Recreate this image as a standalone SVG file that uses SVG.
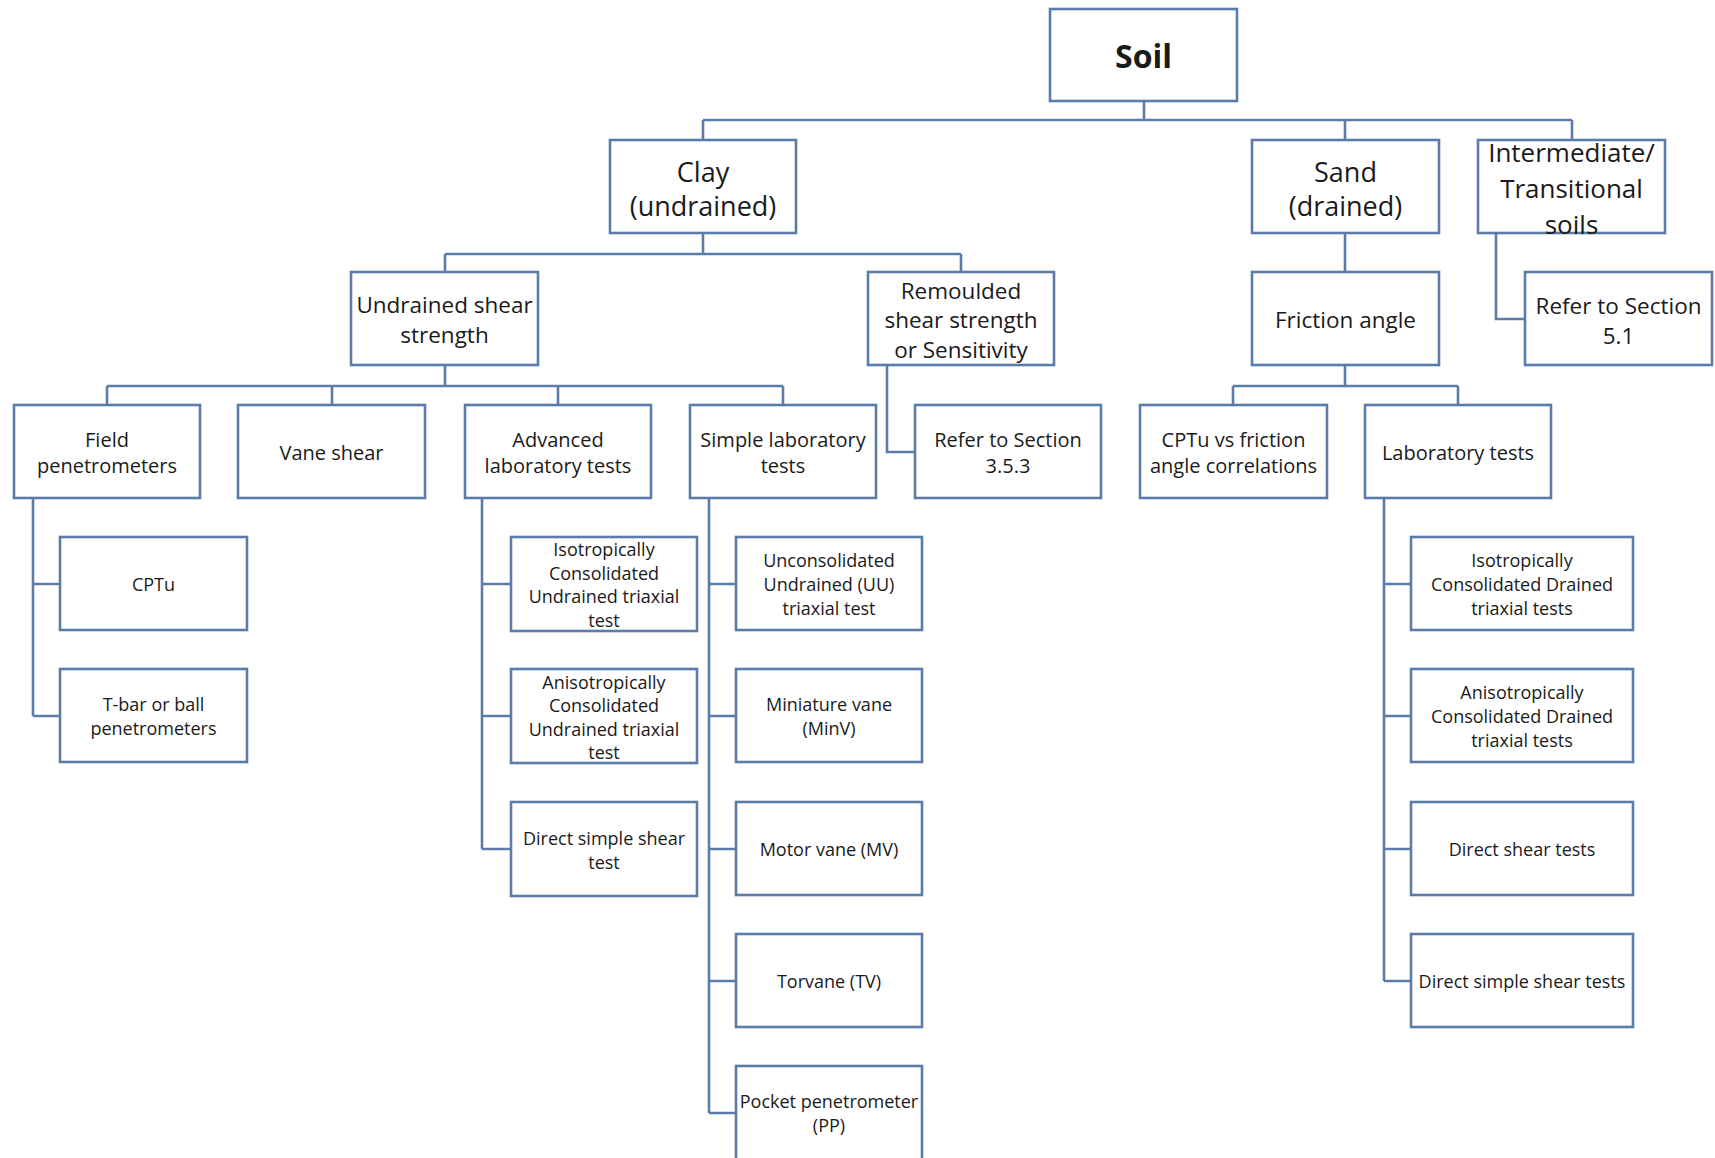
<svg xmlns="http://www.w3.org/2000/svg" width="1715" height="1158" viewBox="0 0 1715 1158">
<style>
.box{fill:#ffffff;stroke:#5b7ca8;stroke-width:2.6}
.ln{fill:none;stroke:#5b7ca8;stroke-width:2.6}
text{font-family:"Open Sans","Noto Sans","Liberation Sans",sans-serif;fill:#1a1a1a;text-anchor:middle;dominant-baseline:central}
.t0{font-size:32px;font-weight:bold}
.t1{font-size:27px}
.t1s{font-size:26px}
.t2{font-size:22.5px}
.t3{font-size:20px}
.t4{font-size:18px}
</style>
<rect width="1715" height="1158" fill="#ffffff"/>
<g id="connectors">
<path class="ln" d="M1144 101V120M703 120H1572M703 120V140M1345 120V140M1572 120V140"/>
<path class="ln" d="M703 233V254M445 254H961M445 254V272M961 254V272"/>
<path class="ln" d="M1345 233V272"/>
<path class="ln" d="M1496 233V319H1525"/>
<path class="ln" d="M445 365V386M107 386H783M107 386V405M332 386V405M558 386V405M783 386V405"/>
<path class="ln" d="M887 365V452H915"/>
<path class="ln" d="M1345 365V386M1233 386H1458M1233 386V405M1458 386V405"/>
<path class="ln" d="M33 498V716M33 584H60M33 716H60"/>
<path class="ln" d="M482 498V849M482 584H511M482 716H511M482 849H511"/>
<path class="ln" d="M709 498V1113M709 584H736M709 716H736M709 849H736M709 981H736M709 1113H736"/>
<path class="ln" d="M1384 498V981M1384 584H1411M1384 716H1411M1384 849H1411M1384 981H1411"/>
</g>
<g id="soil"><rect class="box" x="1050" y="9" width="187" height="92"/><text class="t0" x="1143.5" y="55">Soil</text></g>
<g id="clay"><rect class="box" x="610" y="140" width="186" height="93"/><text class="t1" x="703" y="171">Clay</text><text class="t1" x="703" y="205">(undrained)</text></g>
<g id="sand"><rect class="box" x="1252" y="140" width="187" height="93"/><text class="t1" x="1345.5" y="171">Sand</text><text class="t1" x="1345.5" y="205">(drained)</text></g>
<g id="intermediate"><rect class="box" x="1478" y="140" width="187" height="93"/><text class="t1s" x="1571.5" y="152">Intermediate/</text><text class="t1s" x="1571.5" y="188">Transitional</text><text class="t1s" x="1571.5" y="224">soils</text></g>
<g id="undrained-shear"><rect class="box" x="351" y="272" width="187" height="93"/><text class="t2" x="444.5" y="304">Undrained shear</text><text class="t2" x="444.5" y="334">strength</text></g>
<g id="remoulded"><rect class="box" x="868" y="272" width="186" height="93"/><text class="t2" x="961" y="290">Remoulded</text><text class="t2" x="961" y="319.5">shear strength</text><text class="t2" x="961" y="349">or Sensitivity</text></g>
<g id="friction-angle"><rect class="box" x="1252" y="272" width="187" height="93"/><text class="t2" x="1345.5" y="319">Friction angle</text></g>
<g id="refer-5-1"><rect class="box" x="1525" y="272" width="187" height="93"/><text class="t2" x="1618.5" y="305">Refer to Section</text><text class="t2" x="1618.5" y="335">5.1</text></g>
<g id="field-pen"><rect class="box" x="14" y="405" width="186" height="93"/><text class="t3" x="107" y="439">Field</text><text class="t3" x="107" y="465">penetrometers</text></g>
<g id="vane-shear"><rect class="box" x="238" y="405" width="187" height="93"/><text class="t3" x="331.5" y="452">Vane shear</text></g>
<g id="advanced"><rect class="box" x="465" y="405" width="186" height="93"/><text class="t3" x="558" y="439">Advanced</text><text class="t3" x="558" y="465">laboratory tests</text></g>
<g id="simple-lab"><rect class="box" x="690" y="405" width="186" height="93"/><text class="t3" x="783" y="439">Simple laboratory</text><text class="t3" x="783" y="465">tests</text></g>
<g id="refer-3-5-3"><rect class="box" x="915" y="405" width="186" height="93"/><text class="t3" x="1008" y="439">Refer to Section</text><text class="t3" x="1008" y="465">3.5.3</text></g>
<g id="cptu-friction"><rect class="box" x="1140" y="405" width="187" height="93"/><text class="t3" x="1233.5" y="439">CPTu vs friction</text><text class="t3" x="1233.5" y="465">angle correlations</text></g>
<g id="lab-tests"><rect class="box" x="1365" y="405" width="186" height="93"/><text class="t3" x="1458" y="452">Laboratory tests</text></g>
<g id="cptu"><rect class="box" x="60" y="537" width="187" height="93"/><text class="t4" x="153.5" y="584">CPTu</text></g>
<g id="tbar"><rect class="box" x="60" y="669" width="187" height="93"/><text class="t4" x="153.5" y="704">T-bar or ball</text><text class="t4" x="153.5" y="728">penetrometers</text></g>
<g id="icu"><rect class="box" x="511" y="537" width="186" height="94"/><text class="t4" x="604" y="549">Isotropically</text><text class="t4" x="604" y="572.5">Consolidated</text><text class="t4" x="604" y="596">Undrained triaxial</text><text class="t4" x="604" y="619.5">test</text></g>
<g id="acu"><rect class="box" x="511" y="669" width="186" height="94"/><text class="t4" x="604" y="681.5">Anisotropically</text><text class="t4" x="604" y="705">Consolidated</text><text class="t4" x="604" y="728.5">Undrained triaxial</text><text class="t4" x="604" y="752">test</text></g>
<g id="dss-clay"><rect class="box" x="511" y="802" width="186" height="94"/><text class="t4" x="604" y="838">Direct simple shear</text><text class="t4" x="604" y="862">test</text></g>
<g id="uu"><rect class="box" x="736" y="537" width="186" height="93"/><text class="t4" x="829" y="560">Unconsolidated</text><text class="t4" x="829" y="584">Undrained (UU)</text><text class="t4" x="829" y="608">triaxial test</text></g>
<g id="minv"><rect class="box" x="736" y="669" width="186" height="93"/><text class="t4" x="829" y="704">Miniature vane</text><text class="t4" x="829" y="728">(MinV)</text></g>
<g id="mv"><rect class="box" x="736" y="802" width="186" height="93"/><text class="t4" x="829" y="849">Motor vane (MV)</text></g>
<g id="tv"><rect class="box" x="736" y="934" width="186" height="93"/><text class="t4" x="829" y="981">Torvane (TV)</text></g>
<g id="pp"><rect class="box" x="736" y="1066" width="186" height="100"/><text class="t4" x="829" y="1101">Pocket penetrometer</text><text class="t4" x="829" y="1125">(PP)</text></g>
<g id="icd"><rect class="box" x="1411" y="537" width="222" height="93"/><text class="t4" x="1522" y="560">Isotropically</text><text class="t4" x="1522" y="584">Consolidated Drained</text><text class="t4" x="1522" y="608">triaxial tests</text></g>
<g id="acd"><rect class="box" x="1411" y="669" width="222" height="93"/><text class="t4" x="1522" y="692">Anisotropically</text><text class="t4" x="1522" y="716">Consolidated Drained</text><text class="t4" x="1522" y="740">triaxial tests</text></g>
<g id="ds"><rect class="box" x="1411" y="802" width="222" height="93"/><text class="t4" x="1522" y="849">Direct shear tests</text></g>
<g id="dss-sand"><rect class="box" x="1411" y="934" width="222" height="93"/><text class="t4" x="1522" y="981">Direct simple shear tests</text></g>
</svg>
